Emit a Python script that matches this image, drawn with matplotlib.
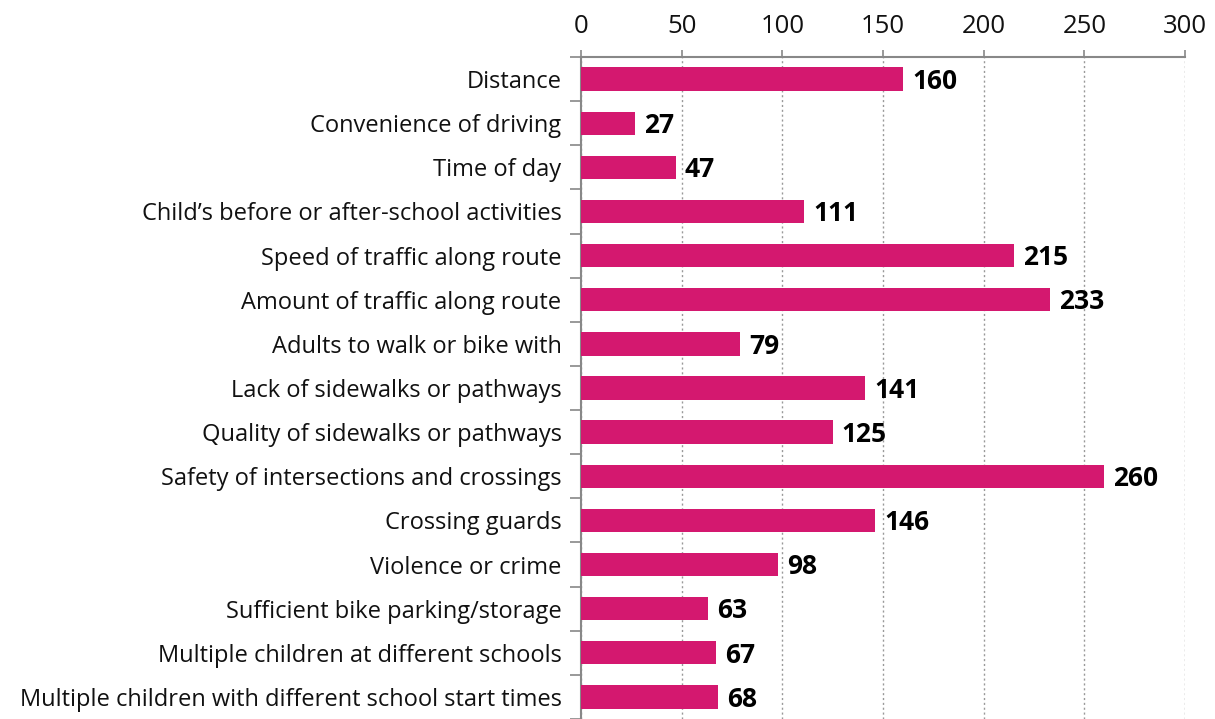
import matplotlib
matplotlib.use("Agg")
import matplotlib.pyplot as plt
from matplotlib.ticker import FixedLocator
import numpy as np

categories = [
    "Distance",
    "Convenience of driving",
    "Time of day",
    "Child\u2019s before or after-school activities",
    "Speed of traffic along route",
    "Amount of traffic along route",
    "Adults to walk or bike with",
    "Lack of sidewalks or pathways",
    "Quality of sidewalks or pathways",
    "Safety of intersections and crossings",
    "Crossing guards",
    "Violence or crime",
    "Sufficient bike parking/storage",
    "Multiple children at different schools",
    "Multiple children with different school start times",
]
values = [160, 27, 47, 111, 215, 233, 79, 141, 125, 260, 146, 98, 63, 67, 68]
xticks = [0, 50, 100, 150, 200, 250, 300]

bar_color = "#D4186F"
plt.rcParams["font.family"] = ["Open Sans", "DejaVu Sans"]

fig = plt.figure(figsize=(12.15, 7.19), dpi=100)
ax = fig.add_axes([581/1215, 0.0, (1185-581)/1215, 1 - 57/719])

y = np.arange(len(categories))
ax.barh(y, values, height=0.53, color=bar_color, zorder=3)
ax.set_ylim(len(categories) - 0.5, -0.5)
ax.set_xlim(0, 300)

ax.xaxis.tick_top()
ax.set_xticks(xticks)
ax.set_xticklabels([str(t) for t in xticks], fontsize=18.5, color="#111111")
ax.tick_params(axis="x", direction="out", length=5, color="#888888", width=1.2, pad=8)

ax.set_yticks(y)
ax.set_yticklabels(categories, fontsize=17, color="#111111")
ax.yaxis.set_minor_locator(FixedLocator(np.arange(-0.5, len(categories), 1.0)))
ax.tick_params(axis="y", which="major", length=0, pad=14)
ax.tick_params(axis="y", which="minor", length=8, color="#888888", width=1.2)

for s in ["right", "bottom"]:
    ax.spines[s].set_visible(False)
for s in ["left", "top"]:
    ax.spines[s].set_color("#888888")
    ax.spines[s].set_linewidth(1.5)

ax.grid(axis="x", linestyle=(0, (1.5, 2)), color="#999999", linewidth=1, zorder=0)

for yi, v in zip(y, values):
    ax.text(v + 4.5, yi + 0.05, str(v), va="center", ha="left", fontsize=19, fontweight="bold")

fig.savefig("out.png", dpi=100)
